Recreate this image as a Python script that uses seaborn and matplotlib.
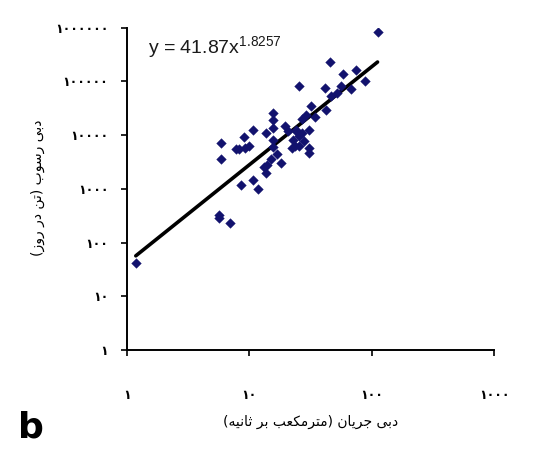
import matplotlib
matplotlib.use("Agg")
import matplotlib.pyplot as plt
import seaborn as sns
import numpy as np
import pandas as pd

# ---- data ----
flow = [1.18, 5.7, 5.7, 6.94, 5.82, 5.82, 7.8, 8.3, 8.5, 9.0, 9.3, 10.0, 10.8, 10.8,
        11.7, 13.2, 13.6, 13.6, 13.9, 15.0, 15.5, 15.5, 15.5, 15.5, 15.7, 16.8, 18.0,
        19.4, 20.8, 22.2, 22.9, 23.7, 24.0, 24.4, 25.3, 25.3, 25.3, 26.8, 27.0, 27.8,
        28.8, 30.7, 30.7, 30.7, 31.7, 34.5, 41.2, 42.5, 46.0, 46.9, 52.0, 56.3, 57.8,
        67.2, 74.1, 88.3, 111.7]
sediment = [41, 328, 284, 229, 7100, 3570, 5580, 5580, 1190, 9180, 5730, 6320, 12600, 1470,
            986, 2600, 10900, 1960, 2800, 3570, 25700, 19300, 13500, 8190, 6100, 4430, 3010,
            14500, 11700, 5730, 8190, 6150, 12600, 11600, 80700, 9440, 6150, 10800, 20100, 7620,
            23900, 12600, 5730, 4620, 35200, 21600, 75100, 29700, 232000, 52500, 60000, 83000, 139000,
            71900, 160000, 103000, 830000]
coef_a = 41.87
coef_b = 1.8257
x_ticks = [1, 10, 100, 1000]
x_tick_labels = ["۱", "۱۰", "۱۰۰", "۱۰۰۰"]
y_ticks = [1, 10, 100, 1000, 10000, 100000, 1000000]
y_tick_labels = ["۱", "۱۰", "۱۰۰", "۱۰۰۰", "۱۰۰۰۰", "۱۰۰۰۰۰", "۱۰۰۰۰۰۰"]
x_title = "دبی جریان (مترمکعب بر ثانیه)"
y_title = "دبی رسوب (تن در روز)"
equation = r"y = 41.87x$^{1.8257}$"
panel = "b"

# ---- minimal Persian shaping (matplotlib has no RTL / joining support) ----
FORMS = {
    'ا': ('\uFE8D', '\uFE8E', None, None),
    'ب': ('\uFE8F', '\uFE90', '\uFE91', '\uFE92'),
    'ت': ('\uFE95', '\uFE96', '\uFE97', '\uFE98'),
    'ث': ('\uFE99', '\uFE9A', '\uFE9B', '\uFE9C'),
    'ج': ('\uFE9D', '\uFE9E', '\uFE9F', '\uFEA0'),
    'د': ('\uFEA9', '\uFEAA', None, None),
    'ر': ('\uFEAD', '\uFEAE', None, None),
    'ز': ('\uFEAF', '\uFEB0', None, None),
    'س': ('\uFEB1', '\uFEB2', '\uFEB3', '\uFEB4'),
    'ع': ('\uFEC9', '\uFECA', '\uFECB', '\uFECC'),
    'م': ('\uFEE1', '\uFEE2', '\uFEE3', '\uFEE4'),
    'ن': ('\uFEE5', '\uFEE6', '\uFEE7', '\uFEE8'),
    'ه': ('\uFEE9', '\uFEEA', '\uFEEB', '\uFEEC'),
    'و': ('\uFEED', '\uFEEE', None, None),
    'ی': ('\uFBFC', '\uFBFD', '\uFBFE', '\uFBFF'),
    'ک': ('\uFB8E', '\uFB8F', '\uFB90', '\uFB91'),
}


def shape_rtl(s):
    out = []
    n = len(s)
    for i, c in enumerate(s):
        if c not in FORMS:
            out.append(c)
            continue
        prev = s[i - 1] if i > 0 else None
        nxt = s[i + 1] if i < n - 1 else None
        jp = prev in FORMS and FORMS[prev][2] is not None
        jn = nxt in FORMS and FORMS[c][2] is not None
        iso, fin, ini, med = FORMS[c]
        if jp and jn:
            out.append(med)
        elif jp:
            out.append(fin)
        elif jn:
            out.append(ini)
        else:
            out.append(iso)
    vis = "".join(reversed(out))
    vis = vis.translate(str.maketrans({'(': ')', ')': '('}))
    return vis


sns.set_style("ticks")
plt.rcParams['font.family'] = ['DejaVu Sans']
plt.rcParams['mathtext.fontset'] = 'custom'
plt.rcParams['mathtext.rm'] = 'Liberation Sans'
plt.rcParams['mathtext.it'] = 'Liberation Sans:italic'

fig = plt.figure(figsize=(5.4, 4.54), dpi=100)
fig.patch.set_facecolor("white")
ax = fig.add_axes([127 / 540, 1 - 350 / 454, (494 - 127) / 540, (350 - 27.7) / 454])
ax.set_facecolor("white")

df = pd.DataFrame({"flow": flow, "sediment": sediment})
sns.scatterplot(data=df, x="flow", y="sediment", ax=ax, marker="D", s=24,
                color="#12126e", edgecolor="#12126e", linewidth=0.3, zorder=3)

xf = np.logspace(np.log10(min(flow)), np.log10(max(flow)), 100)
fit = pd.DataFrame({"x": xf, "y": coef_a * xf ** coef_b})
sns.lineplot(data=fit, x="x", y="y", ax=ax, color="black", linewidth=2.6, zorder=2)

ax.set_xscale("log")
ax.set_yscale("log")
ax.set_xlim(1, 1000)
ax.set_ylim(1, 1000000)
ax.set_xticks(x_ticks)
ax.set_xticklabels(x_tick_labels, fontweight="bold")
ax.set_yticks(y_ticks)
ax.set_yticklabels(y_tick_labels, fontweight="bold")
ax.minorticks_off()
ax.tick_params(axis="x", length=4, width=1.2, pad=24, labelsize=9, colors="black")
ax.tick_params(axis="y", length=4.5, width=1.2, pad=9, labelsize=9, colors="black")
ax.set_xlabel("")
ax.set_ylabel("")
for sp in ["top", "right"]:
    ax.spines[sp].set_visible(False)
for sp in ["left", "bottom"]:
    ax.spines[sp].set_color("black")
    ax.spines[sp].set_linewidth(1.4)

ax.text(148 / 540, 1 - 47 / 454, equation, transform=fig.transFigure,
        fontsize=14, family="Liberation Sans", color="#1a1a1a", va="center", ha="left")

fig.text(311 / 540, 1 - 422 / 454, shape_rtl(x_title), ha="center", va="center",
         fontsize=10, color="black")
fig.text(38 / 540, 1 - 188 / 454, shape_rtl(y_title), ha="center", va="center",
         rotation=90, fontsize=10, color="black")
fig.text(31 / 540, 1 - 427 / 454, panel, ha="center", va="center", fontsize=26,
         fontweight="bold", family="DejaVu Sans", color="black")

fig.savefig("out.png", dpi=100, facecolor="white")
